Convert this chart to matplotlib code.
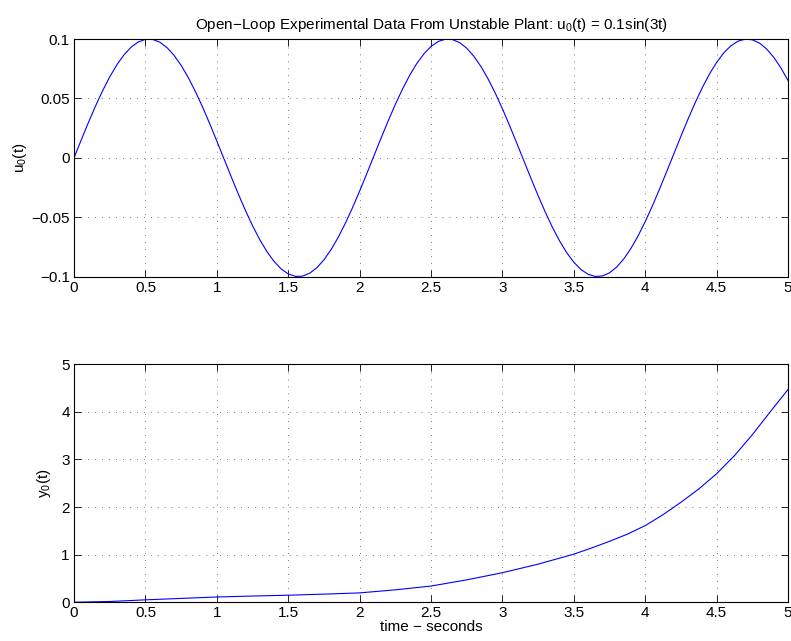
import numpy as np
import matplotlib
matplotlib.use('Agg')
import matplotlib.pyplot as plt

plt.rcParams['font.family'] = ['Liberation Sans', 'DejaVu Sans']
plt.rcParams['mathtext.fontset'] = 'custom'
plt.rcParams['mathtext.rm'] = 'Liberation Sans'
plt.rcParams['mathtext.default'] = 'regular'

# input signal, read every 0.05 s
t_u = np.arange(101) * 0.05
u0 = [0.0, 0.01494, 0.02955, 0.04350, 0.05646, 0.06816, 0.07833, 0.08674, 0.09320, 0.09757,
      0.09975, 0.09969, 0.09738, 0.09290, 0.08632, 0.07781, 0.06755, 0.05577, 0.04274, 0.02875,
      0.01411, -0.00084, -0.01577, -0.03035, -0.04425, -0.05716, -0.06878, -0.07885, -0.08716, -0.09349,
      -0.09775, -0.09982, -0.09962, -0.09716, -0.09258, -0.08589, -0.07728, -0.06692, -0.05507, -0.04198,
      -0.02794, -0.01328, 0.00168, 0.01660, 0.03115, 0.04501, 0.05784, 0.06938, 0.07937, 0.08755,
      0.09380, 0.09792, 0.09985, 0.09954, 0.09699, 0.09226, 0.08546, 0.07674, 0.06630, 0.05437,
      0.04121, 0.02712, 0.01245, -0.00252, -0.01743, -0.03195, -0.04575, -0.05853, -0.06999, -0.07989,
      -0.08797, -0.09407, -0.09809, -0.09990, -0.09945, -0.09679, -0.09193, -0.08504, -0.07620, -0.06566,
      -0.05366, -0.04043, -0.02629, -0.01161, 0.00336, 0.01826, 0.03275, 0.04650, 0.05921, 0.07060,
      0.08038, 0.08838, 0.09436, 0.09823, 0.09993, 0.09935, 0.09657, 0.09159, 0.08457, 0.07565,
      0.06503]

# plant output
t_y = [0, 0.25, 0.5, 0.75, 1, 1.25, 1.5, 1.75, 2, 2.25, 2.5, 2.75, 3, 3.25,
       3.5, 3.625, 3.75, 3.875, 4, 4.125, 4.25, 4.375, 4.5, 4.625, 4.75, 4.875, 5]
y0 = [0.0, 0.015, 0.05, 0.08, 0.11, 0.13, 0.147, 0.17, 0.196, 0.26, 0.34, 0.47, 0.62, 0.80,
      1.01, 1.14, 1.28, 1.43, 1.61, 1.84, 2.10, 2.38, 2.70, 3.08, 3.52, 4.00, 4.47]

xticks = [0, 0.5, 1, 1.5, 2, 2.5, 3, 3.5, 4, 4.5, 5]
xticklabels = ['0', '0.5', '1', '1.5', '2', '2.5', '3', '3.5', '4', '4.5', '5']

fig = plt.figure(figsize=(7.91, 6.41), dpi=100)
ax1 = fig.add_axes([0.0936, 0.5685, 0.9027, 0.3706])
ax2 = fig.add_axes([0.0936, 0.0605, 0.9027, 0.3713])


def style(ax):
    ax.set_xlim(0, 5)
    ax.set_xticks(xticks)
    ax.set_xticklabels(xticklabels)
    ax.tick_params(direction='in', length=5, width=0.6, labelsize=11,
                   top=True, right=True, pad=3)
    ax.grid(True, color='black', linestyle=(0, (1, 9)), linewidth=0.5)
    for s in ax.spines.values():
        s.set_linewidth(0.8)


ax1.plot(t_u, u0, color='blue', linewidth=0.8)
style(ax1)
ax1.set_ylim(-0.1, 0.1)
ax1.set_yticks([-0.1, -0.05, 0, 0.05, 0.1])
ax1.set_yticklabels(['\u22120.1', '\u22120.05', '0', '0.05', '0.1'])
ax1.set_ylabel('u$_0$(t)', fontsize=11, labelpad=2)
ax1.set_title('Open\u2212Loop Experimental Data From Unstable Plant: u$_0$(t) = 0.1sin(3t)',
              fontsize=11, pad=7)

ax2.plot(t_y, y0, color='blue', linewidth=0.8)
style(ax2)
ax2.set_ylim(0, 5)
ax2.set_yticks([0, 1, 2, 3, 4, 5])
ax2.set_ylabel('y$_0$(t)', fontsize=11, labelpad=6)
ax2.set_xlabel('time \u2212 seconds', fontsize=11, labelpad=0)

fig.savefig('out.png', dpi=100)
